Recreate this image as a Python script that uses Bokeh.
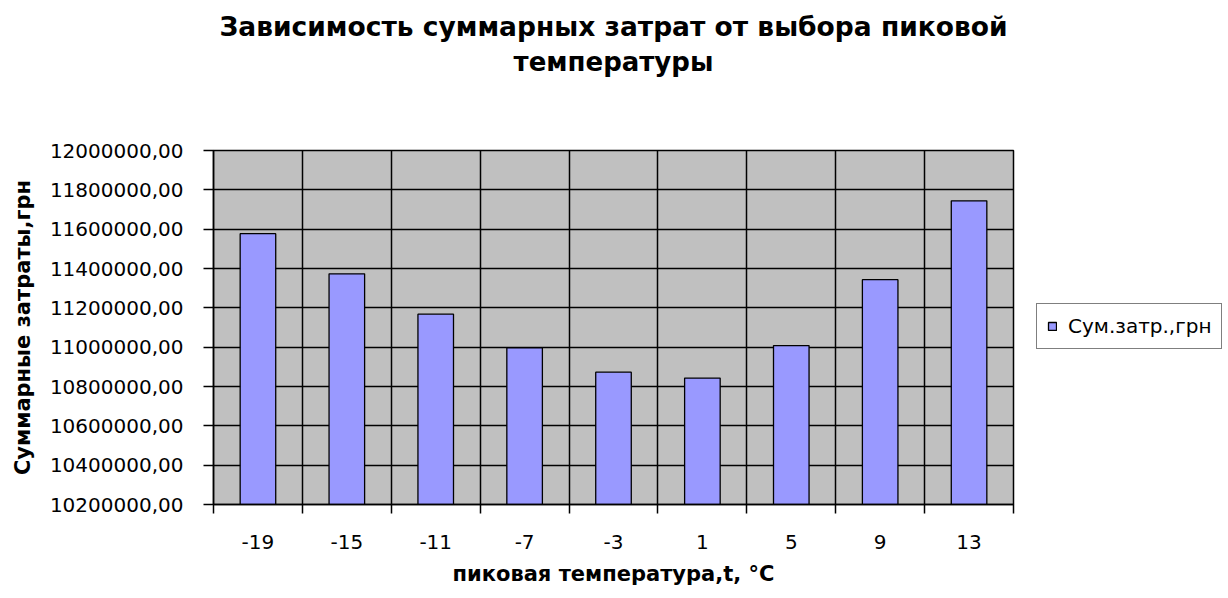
from bokeh.plotting import figure
from bokeh.models import FixedTicker, Title, Legend, LegendItem, Range1d
from bokeh.embed import file_html
from bokeh.resources import INLINE

# ---- data ----
categories = ["-19", "-15", "-11", "-7", "-3", "1", "5", "9", "13"]
costs = [11577000, 11373000, 11168000, 10997000, 10873000, 10843000, 11008000, 11343000, 11744000]
y_ticks = [10200000, 10400000, 10600000, 10800000, 11000000, 11200000,
           11400000, 11600000, 11800000, 12000000]
y_tick_labels = ["10200000,00", "10400000,00", "10600000,00", "10800000,00", "11000000,00",
                 "11200000,00", "11400000,00", "11600000,00", "11800000,00", "12000000,00"]
series_name = "Сум.затр.,грн"
title_lines = ["Зависимость суммарных затрат от выбора пиковой", "температуры"]
x_title = "пиковая температура,t, °C"
y_title = "Суммарные затраты,грн"

FONT = "DejaVu Sans"

x_idx = list(range(len(categories)))
boundaries = [i - 0.5 for i in range(len(categories) + 1)]

p = figure(frame_width=800, frame_height=354, output_backend="svg", toolbar_location=None,
           x_range=Range1d(-0.5, len(categories) - 0.5),
           y_range=Range1d(y_ticks[0], y_ticks[-1]),
           min_border_left=213, min_border_right=215, min_border_top=150, min_border_bottom=94)

p.background_fill_color = "#C0C0C0"
p.border_fill_color = "white"
p.outline_line_color = "black"
p.outline_line_width = 1.5

bars = p.vbar(x=x_idx, top=costs, bottom=y_ticks[0], width=0.4,
              fill_color="#9999FF", line_color="black", line_width=1.3)

# title: spacer closest to the frame, then line 2, then line 1
spacer = Title(text=" ", align="center", text_font=FONT, text_font_size="26px", standoff=40)
t2 = Title(text=title_lines[1], align="center", text_font=FONT, text_font_size="26px",
           text_font_style="bold", text_color="black", standoff=3)
t1 = Title(text=title_lines[0], align="center", text_font=FONT, text_font_size="26.5px",
           text_font_style="bold", text_color="black", standoff=3)
p.add_layout(spacer, "above")
p.add_layout(t2, "above")
p.add_layout(t1, "above")

# x axis
xt = FixedTicker(ticks=x_idx, minor_ticks=boundaries)
p.xaxis.ticker = xt
p.xaxis.major_label_overrides = {i: c for i, c in zip(x_idx, categories)}
p.xaxis.major_tick_line_color = None
p.xaxis.minor_tick_line_color = "black"
p.xaxis.minor_tick_line_width = 1.5
p.xaxis.minor_tick_out = 9
p.xaxis.minor_tick_in = 0
p.xaxis.major_label_standoff = 21
p.xaxis.major_label_text_font = FONT
p.xaxis.major_label_text_font_size = "20px"
p.xaxis.major_label_text_color = "black"
p.xaxis.axis_label = x_title
p.xaxis.axis_label_text_font = FONT
p.xaxis.axis_label_text_font_size = "21px"
p.xaxis.axis_label_text_font_style = "bold"
p.xaxis.axis_label_text_color = "black"
p.xaxis.axis_label_standoff = 10
p.xaxis.axis_line_color = "black"
p.xaxis.axis_line_width = 1.5

# y axis
yt = FixedTicker(ticks=y_ticks)
p.yaxis.ticker = yt
p.yaxis.major_label_overrides = {v: s for v, s in zip(y_ticks, y_tick_labels)}
p.yaxis.major_tick_line_color = "black"
p.yaxis.major_tick_line_width = 1.5
p.yaxis.major_tick_out = 10
p.yaxis.major_tick_in = 0
p.yaxis.minor_tick_line_color = None
p.yaxis.major_label_standoff = 20
p.yaxis.major_label_text_font = FONT
p.yaxis.major_label_text_font_size = "20px"
p.yaxis.major_label_text_color = "black"
p.yaxis.axis_label = y_title
p.yaxis.axis_label_text_font = FONT
p.yaxis.axis_label_text_font_size = "21px"
p.yaxis.axis_label_text_font_style = "bold"
p.yaxis.axis_label_text_color = "black"
p.yaxis.axis_label_standoff = 12
p.yaxis.axis_line_color = "black"
p.yaxis.axis_line_width = 1.5

# grids
p.xgrid.ticker = FixedTicker(ticks=boundaries)
p.ygrid.ticker = FixedTicker(ticks=y_ticks)
for g in (p.xgrid, p.ygrid):
    g.grid_line_color = "black"
    g.grid_line_width = 1.5
    g.grid_line_alpha = 1.0

legend = Legend(items=[LegendItem(label=series_name, renderers=[bars])],
                location=(23, 155), margin=0, padding=10,
                glyph_width=10, glyph_height=10, label_standoff=11,
                label_text_font=FONT, label_text_font_size="20px", label_text_color="black",
                border_line_color="black", border_line_width=1.3,
                background_fill_color="white", background_fill_alpha=1.0)
p.add_layout(legend, "right")

open("out.html", "w").write(file_html(p, INLINE))
